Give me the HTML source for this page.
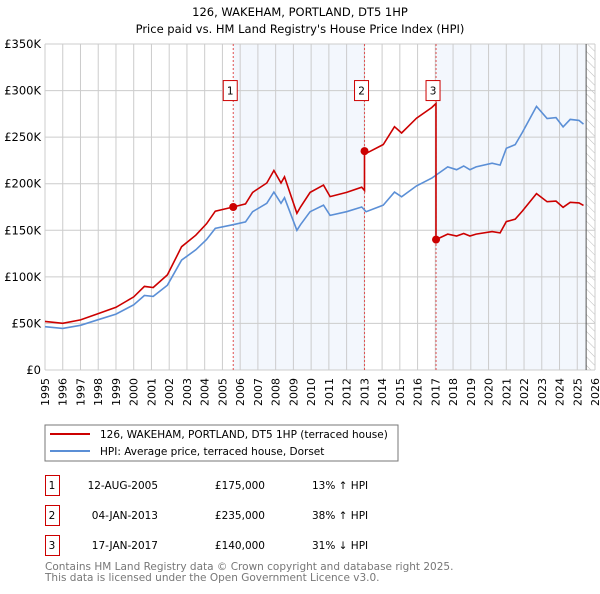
<!DOCTYPE html>
<html><head><meta charset="utf-8"><style>
body{margin:0;background:#fff;font-family:"DejaVu Sans","Liberation Sans",sans-serif;}
svg text{font-family:"DejaVu Sans","Liberation Sans",sans-serif;}
</style></head><body>
<svg id="c" width="600" height="590" xmlns="http://www.w3.org/2000/svg">
<defs><pattern id="hatch" width="6" height="6" patternUnits="userSpaceOnUse" patternTransform="rotate(-45)"><line x1="0" y1="0" x2="0" y2="6" stroke="#bbb" stroke-width="1"/></pattern></defs>
<text x="300" y="16" text-anchor="middle" font-size="11.5" fill="#000">126, WAKEHAM, PORTLAND, DT5 1HP</text>
<text x="300" y="33" text-anchor="middle" font-size="11.5" fill="#000">Price paid vs. HM Land Registry's House Price Index (HPI)</text>
<g id="plot"></g>
<g>
<rect x="45" y="425" width="353" height="36" fill="#fff" stroke="#777"/>
<line x1="50" y1="434" x2="90" y2="434" stroke="#cc0000" stroke-width="2"/>
<text x="100" y="438" font-size="10.5">126, WAKEHAM, PORTLAND, DT5 1HP (terraced house)</text>
<line x1="50" y1="451" x2="90" y2="451" stroke="#5b8fd6" stroke-width="2"/>
<text x="100" y="455" font-size="10.5">HPI: Average price, terraced house, Dorset</text>
</g>
<g id="table"></g>
<text x="45" y="570" font-size="10.5" fill="#777">Contains HM Land Registry data © Crown copyright and database right 2025.</text>
<text x="45" y="581" font-size="10.5" fill="#777">This data is licensed under the Open Government Licence v3.0.</text>
</svg>
<script>
const hpiYears=[1995.0,1996.0,1997.0,1998.0,1999.0,2000.0,2000.6,2001.1,2001.9,2002.7,2003.5,2004.1,2004.6,2005.6,2006.3,2006.7,2007.5,2007.9,2008.3,2008.5,2008.8,2009.2,2009.4,2009.94,2010.7,2011.07,2012.0,2012.85,2013.1,2014.07,2014.7,2015.1,2015.94,2016.8,2017.7,2018.2,2018.6,2018.95,2019.3,2020.2,2020.65,2021.0,2021.5,2021.9,2022.7,2023.3,2023.8,2024.2,2024.6,2025.1,2025.35];
const hpiValues=[46.5,44.7,48,54,60,70,80,79,91,118,129,140,152,156,159,170,179,191,179,185,170,150,156,170,177,166,170,175,170,177,191,186,197.6,206,218,215,219,215,218,222,220,238,242,255,283,270,271,261,269,268,264];
const saleYears=[2005.61,2013.01,2017.04];
const salePrices=[175,235,140];
const saleLabels=["1","2","3"];
const saleDates=["12-AUG-2005","04-JAN-2013","17-JAN-2017"];
const salePriceText=["£175,000","£235,000","£140,000"];
const saleHpiText=["13% \u2191 HPI","38% \u2191 HPI","31% \u2193 HPI"];
const yTicks=[0,50,100,150,200,250,300,350];
const yTickLabels=["£0","£50K","£100K","£150K","£200K","£250K","£300K","£350K"];
const xTicks=[1995,1996,1997,1998,1999,2000,2001,2002,2003,2004,2005,2006,2007,2008,2009,2010,2011,2012,2013,2014,2015,2016,2017,2018,2019,2020,2021,2022,2023,2024,2025,2026];

const NS="http://www.w3.org/2000/svg";
const X0=45,X1=595,Y0=370,Y1=44,xMin=1995,xMax=2026,yMax=350,dataEnd=2025.5;
const xs=v=>X0+(v-xMin)/(xMax-xMin)*(X1-X0);
const ys=v=>Y0-v/yMax*(Y0-Y1);
function mk(tag,attrs,parent){const e=document.createElementNS(NS,tag);for(const k in attrs)e.setAttribute(k,attrs[k]);parent.appendChild(e);return e;}
function hpiAt(t){for(let i=0;i<hpiYears.length-1;i++){if(t>=hpiYears[i]&&t<=hpiYears[i+1]){const f=(t-hpiYears[i])/(hpiYears[i+1]-hpiYears[i]);return hpiValues[i]+f*(hpiValues[i+1]-hpiValues[i]);}}return hpiValues[hpiValues.length-1];}
const plot=document.getElementById('plot');
const bands=[[saleYears[0],saleYears[1]],[saleYears[2],dataEnd]];
bands.forEach((b,i)=>{const r=mk('rect',{x:xs(b[0]),y:Y1,width:xs(b[1])-xs(b[0]),height:Y0-Y1,fill:'#eef3fc',opacity:0.7},plot);

});
const h=mk('rect',{x:xs(dataEnd),y:Y1,width:X1-xs(dataEnd),height:Y0-Y1,fill:'url(#hatch)'},plot);


xTicks.forEach((t,i)=>{const l=mk('line',{x1:xs(t),x2:xs(t),y1:Y1,y2:Y0,stroke:'#ccc','stroke-width':1},plot);


const tx=mk('text',{x:0,y:0,'font-size':11,'text-anchor':'end',transform:`translate(${xs(t)+4},${Y0+8}) rotate(-90)`},plot);tx.textContent=t;

});
yTicks.forEach((t,i)=>{const l=mk('line',{x1:X0,x2:X1,y1:ys(t),y2:ys(t),stroke:'#ccc','stroke-width':1},plot);


const tx=mk('text',{x:X0-4,y:ys(t)+4,'font-size':11.5,'text-anchor':'end'},plot);tx.textContent=yTickLabels[i];

});
const dl=mk('line',{x1:xs(dataEnd),x2:xs(dataEnd),y1:Y1,y2:Y0,stroke:'#555','stroke-width':1},plot);


saleYears.forEach((s,i)=>{const l=mk('line',{x1:xs(s),x2:xs(s),y1:Y1,y2:Y0,stroke:'#e05050','stroke-width':1,'stroke-dasharray':'2,2'},plot);

});
let d='';hpiYears.forEach((t,i)=>{d+=(i?'L':'M')+xs(t).toFixed(1)+','+ys(hpiValues[i]).toFixed(1);});
const hl=mk('path',{d:d,fill:'none',stroke:'#5b8fd6','stroke-width':1.6},plot);


const ratios=saleYears.map((s,i)=>salePrices[i]/hpiAt(s));
function ratioAt(t){let r=ratios[0];for(let i=0;i<saleYears.length;i++)if(t>=saleYears[i])r=ratios[i];return r;}
let pts=[];hpiYears.forEach((t,i)=>pts.push([t,hpiValues[i]*ratioAt(t)]));
saleYears.forEach((s,i)=>{if(i>0)pts.push([s-0.0001,hpiAt(s)*ratios[i-1]]);pts.push([s,salePrices[i]]);});
pts.sort((a,b)=>a[0]-b[0]);
let d2='';pts.forEach((p,i)=>{d2+=(i?'L':'M')+xs(p[0]).toFixed(1)+','+ys(p[1]).toFixed(1);});
const pl=mk('path',{d:d2,fill:'none',stroke:'#cc0000','stroke-width':1.6},plot);


saleYears.forEach((s,i)=>{const c=mk('circle',{cx:xs(s),cy:ys(salePrices[i]),r:4,fill:'#cc0000'},plot);


const bx=mk('rect',{x:xs(s)-10,y:ys(300)-10,width:14,height:20,fill:'#fff',stroke:'#cc0000'},plot);


const tx=mk('text',{x:xs(s)-3,y:ys(300)+4,'font-size':10.5,'text-anchor':'middle'},plot);tx.textContent=saleLabels[i];

});
const tb=document.getElementById('table');
saleLabels.forEach((lab,i)=>{const y=475+i*30;
const b=mk('rect',{x:45.5,y:y+0.5,width:14,height:20,fill:'#fff',stroke:'#cc0000'},tb);


const cols=[[52,lab,'middle'],[158,saleDates[i],'end'],[265,salePriceText[i],'end'],[312,saleHpiText[i],'start']];
cols.forEach((c,j)=>{const t=mk('text',{x:c[0],y:y+14,'font-size':10.5,'text-anchor':c[2]},tb);t.textContent=c[1];

});});
</script>
</body></html>
